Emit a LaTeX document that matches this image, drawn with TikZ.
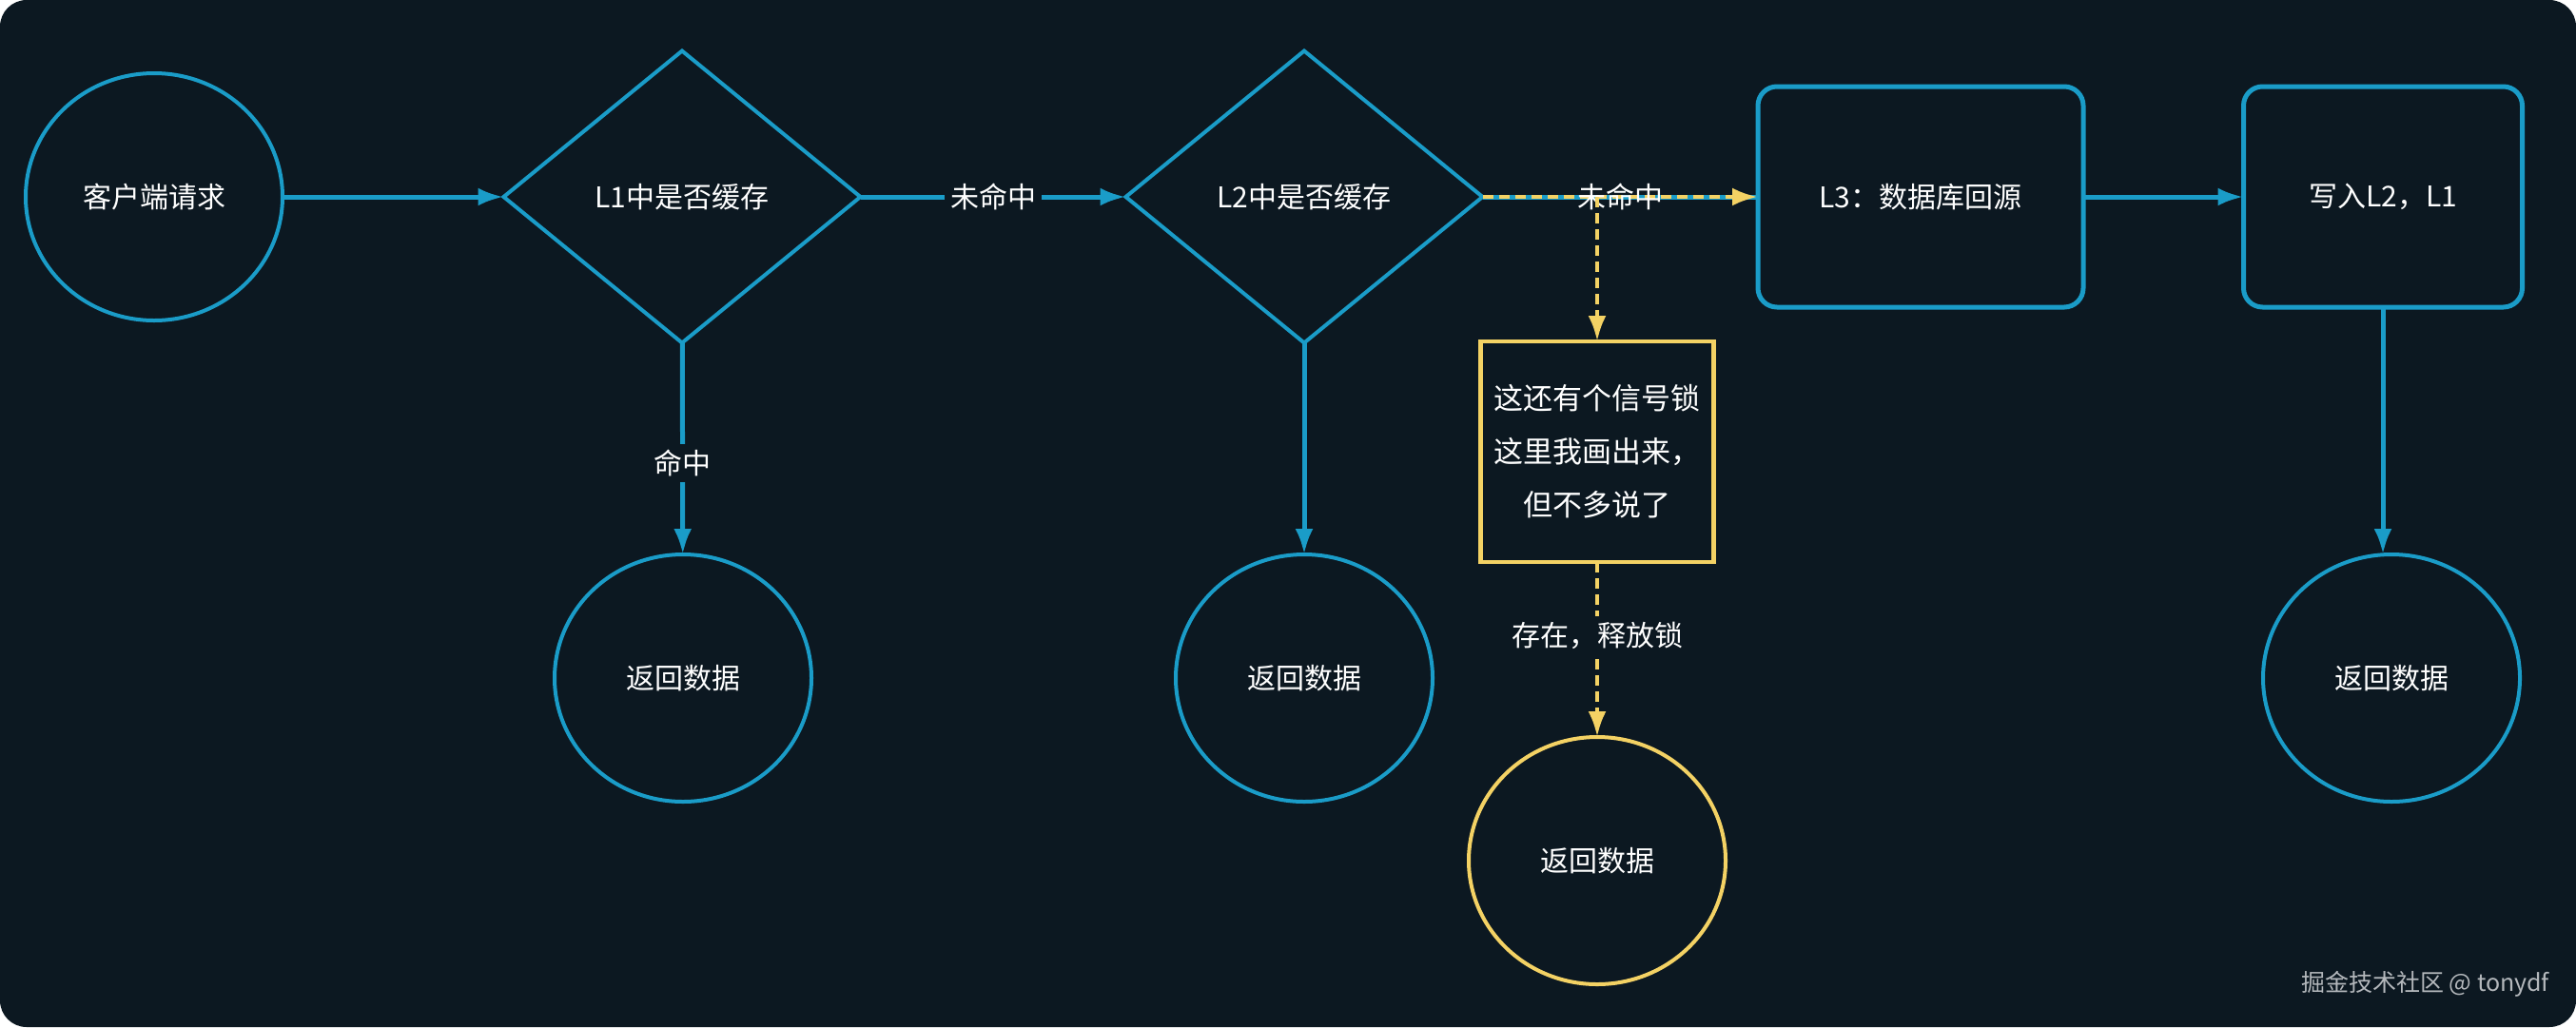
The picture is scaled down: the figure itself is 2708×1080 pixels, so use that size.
\documentclass[tikz,border=0pt]{standalone}
\usepackage{fontspec}
\setmainfont{Noto Sans CJK SC}
\usetikzlibrary{arrows.meta,shapes.geometric}
\definecolor{bgc}{HTML}{0C1821}
\definecolor{cblue}{HTML}{1A9CC8}
\definecolor{cyel}{HTML}{F4D264}
\definecolor{wmgray}{HTML}{B4B8BC}
\begin{document}
\begin{tikzpicture}[x=1pt,y=-1pt,
  every node/.style={font=\fontsize{30}{40}\selectfont, text=white, outer sep=0pt, inner sep=0pt},
  oval/.style={ellipse, draw=cblue, line width=4pt, minimum width=270pt, minimum height=260pt},
  yoval/.style={ellipse, draw=cyel, line width=4pt, minimum width=270pt, minimum height=260pt},
  dia/.style={diamond, draw=cblue, line width=4pt, minimum width=375pt, minimum height=307pt},
  rbox/.style={rectangle, rounded corners=20pt, draw=cblue, line width=5pt, minimum height=232pt},
  ybox/.style={rectangle, draw=cyel, line width=4.5pt},
  barrow/.style={draw=cblue, line width=5pt, -{Latex[length=27pt,width=19pt]}},
  bline/.style={draw=cblue, line width=5pt},
  ydash/.style={draw=cyel, line width=4.5pt, dash pattern=on 11pt off 6pt},
  yarrow/.style={ydash, -{Latex[length=27pt,width=19pt]}},
  lab/.style={fill=bgc, inner sep=6pt},
  plainlab/.style={inner sep=4pt}
]
\fill[white] (0,0) rectangle (2708,1080);
\fill[bgc, rounded corners=28pt] (0,0) rectangle (2708,1080);
\useasboundingbox (0,0) rectangle (2708,1080);

\node[oval] (client) at (162,207) {客户端请求};
\node[dia] (l1) at (717,207) {L1中是否缓存};
\node[dia] (l2) at (1371,207) {L2中是否缓存};
\node[rbox, minimum width=342pt] (l3) at (2019,207) {L3：数据库回源};
\node[rbox, minimum width=293pt] (write) at (2505,207) {写入L2，L1};
\node[oval] (r1) at (718,713) {返回数据};
\node[oval] (r2) at (1371,713) {返回数据};
\node[oval] (r4) at (2514,713) {返回数据};
\node[ybox, minimum width=245pt, minimum height=232pt, align=center,
      font=\fontsize{31}{56}\selectfont] (lock) at (1679,475)
      {这还有个信号锁\\这里我画出来，\\但不多说了};
\node[yoval] (r3) at (1679,905) {返回数据};
\node[font=\fontsize{25}{28}\selectfont, text=wmgray, anchor=east] (wm) at (2680,1035) {掘金技术社区 @ tonydf};

\coordinate (split) at (1679,207);

\draw[barrow] (client) -- (l1);
\draw[barrow] (l1) -- node[lab]{未命中} (l2);
\draw[barrow] (l1) -- node[lab, pos=0.57]{命中} (r1);
\draw[barrow] (l2) -- (r2);
\draw[bline] (l2.east) -- (l3.west);
\draw[yarrow] (l2.east) -- node[plainlab, pos=0.5]{未命中} (l3.west);
\draw[yarrow] (split) -- (lock);
\draw[yarrow] (lock) -- node[lab, pos=0.42]{存在，释放锁} (r3);
\draw[barrow] (l3) -- (write);
\draw[barrow] (write.south) -- (write.south |- r4.north);
\end{tikzpicture}
\end{document}
